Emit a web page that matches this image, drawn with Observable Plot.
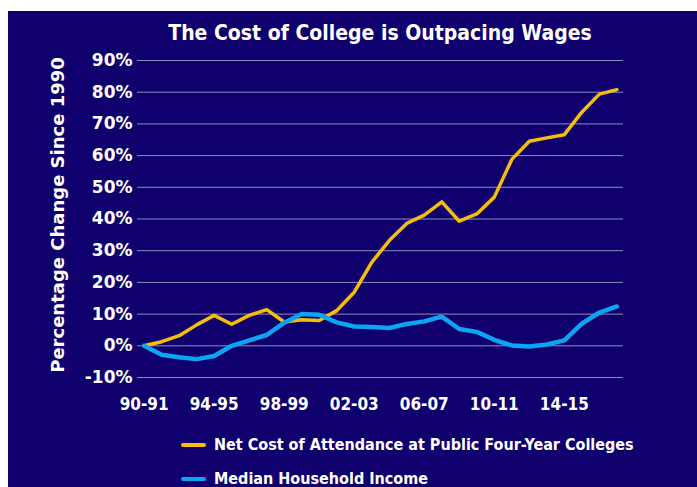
<!DOCTYPE html>
<html>
<head>
<meta charset="utf-8">
<script src="https://cdn.jsdelivr.net/npm/d3@7"></script>
<script src="https://cdn.jsdelivr.net/npm/@observablehq/plot@0.6"></script>
<style>
  html, body { margin: 0; padding: 0; background: #fff; }
  #wrap { position: relative; width: 697px; height: 487px; overflow: hidden; background: #fff; }
  #bg { position: absolute; left: 8px; top: 11px; right: 0; bottom: 0; background: #0f006e; }
  #title { position: absolute; left: 137px; width: 486px; top: 21px; text-align: center; color: #fff;
           font-family: "DejaVu Sans Condensed", "DejaVu Sans", sans-serif; font-weight: bold; font-size: 21px; white-space: nowrap; }
  #ylab { position: absolute; left: 57px; top: 215px; transform: translate(-50%, -50%) rotate(-90deg); color: #fff;
          font-family: "DejaVu Sans", sans-serif; font-weight: bold; font-size: 18px; white-space: nowrap; }
  #plot { position: absolute; left: 0; top: 0; }
  .leg { position: absolute; left: 181px; color: #fff; font-family: "DejaVu Sans Condensed", "DejaVu Sans", sans-serif;
         font-weight: bold; font-size: 16px; white-space: nowrap; display: flex; align-items: center; }
  .sw { display: inline-block; width: 25px; height: 4px; margin-right: 8px; border-radius: 2px; }
</style>
</head>
<body>
<div id="wrap">
  <div id="bg"></div>
  <div id="plot"></div>
  <div id="title">The Cost of College is Outpacing Wages</div>
  <div id="ylab">Percentage Change Since 1990</div>
  <div id="legend"></div>
</div>
<script>
const years = ["90-91","91-92","92-93","93-94","94-95","95-96","96-97","97-98","98-99","99-00",
  "00-01","01-02","02-03","03-04","04-05","05-06","06-07","07-08","08-09","09-10",
  "10-11","11-12","12-13","13-14","14-15","15-16","16-17","17-18"];
const collegeCost = [0, 1.3, 3.2, 6.6, 9.6, 6.8, 9.6, 11.4, 7.5, 8.2, 8.0, 11.1, 16.9, 26.3, 33.2,
  38.6, 41.2, 45.4, 39.3, 41.6, 46.9, 58.8, 64.5, 65.6, 66.6, 73.7, 79.4, 80.8];
const householdIncome = [0, -2.8, -3.6, -4.2, -3.2, 0, 1.7, 3.4, 7.3, 10.0, 9.8, 7.4, 6.1, 5.9, 5.6,
  6.9, 7.7, 9.2, 5.3, 4.4, 1.9, 0.1, -0.2, 0.4, 1.7, 7.0, 10.5, 12.4];
const xTickLabels = ["90-91","94-95","98-99","02-03","06-07","10-11","14-15"];
const yTicks = [-10, 0, 10, 20, 30, 40, 50, 60, 70, 80, 90];
const seriesNames = ["Net Cost of Attendance at Public Four-Year Colleges", "Median Household Income"];
const seriesColors = ["#f5be0b", "#0aa6f2"];

const rows = [];
years.forEach((y, i) => {
  rows.push({idx: i, year: y, value: collegeCost[i], series: seriesNames[0]});
  rows.push({idx: i, year: y, value: householdIncome[i], series: seriesNames[1]});
});
const xTickIdx = xTickLabels.map(l => years.indexOf(l));

const chart = Plot.plot({
  width: 697,
  height: 487,
  marginTop: 60,
  marginBottom: 110,
  marginLeft: 137,
  marginRight: 74,
  style: { background: "transparent", color: "#fff", overflow: "visible" },
  x: { type: "linear", domain: [-0.38, years.length - 1 + 0.38], label: null },
  y: { domain: [-10, 90], label: null },
  color: { domain: seriesNames, range: seriesColors },
  marks: [
    Plot.gridY(yTicks, { stroke: "#8d8dc2", strokeOpacity: 1, strokeWidth: 1 }),
    Plot.axisY(yTicks, { tickSize: 0, tickPadding: 5, tickFormat: d => d + "%", label: null,
      fontSize: 17, fontWeight: "bold", fontFamily: "DejaVu Sans, sans-serif" }),
    Plot.axisX(xTickIdx, { tickSize: 0, tickPadding: 20, label: null, tickFormat: i => years[i],
      fontSize: 17, fontWeight: "bold", fontFamily: "DejaVu Sans Condensed, DejaVu Sans, sans-serif" }),
    Plot.line(rows.filter(d => d.series === seriesNames[0]), { x: "idx", y: "value", stroke: "series", strokeWidth: 3.5 }),
    Plot.line(rows.filter(d => d.series === seriesNames[1]), { x: "idx", y: "value", stroke: "series", strokeWidth: 4.5 })
  ]
});
document.getElementById("plot").appendChild(chart);

const legend = document.getElementById("legend");
seriesNames.forEach((name, i) => {
  const row = document.createElement("div");
  row.className = "leg";
  row.style.top = (i === 0 ? 435 : 469) + "px";
  row.innerHTML = `<span class="sw" style="background:${seriesColors[i]}"></span><span>${name}</span>`;
  legend.appendChild(row);
});
</script>
</body>
</html>
